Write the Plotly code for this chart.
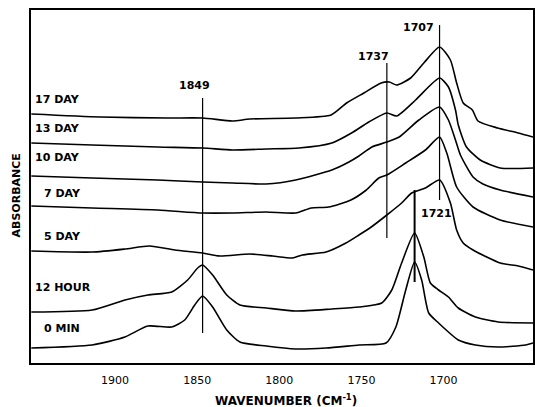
import plotly.graph_objects as go

# ---------------- data ----------------
series_names = ["0 MIN", "12 HOUR", "5 DAY", "7 DAY", "10 DAY", "13 DAY", "17 DAY"]

wn_0min = [1951, 1914, 1894, 1880, 1865.5, 1857.6, 1851.5, 1846.7, 1840.6, 1832, 1824, 1808, 1790,
           1771.5, 1751.5, 1735, 1729, 1723, 1717.6, 1713.3, 1709, 1703, 1697, 1691, 1680.6, 1666.7, 1650, 1645.5]
abs_0min = [0.15, 0.18, 0.26, 0.37, 0.36, 0.43, 0.58, 0.67, 0.56, 0.33, 0.21, 0.17, 0.14,
            0.15, 0.18, 0.20, 0.36, 0.73, 1.01, 0.83, 0.50, 0.40, 0.31, 0.23, 0.18, 0.16, 0.18, 0.20]

wn_12h = [1951, 1914, 1894, 1880, 1865.5, 1855.8, 1849.7, 1846.7, 1840.6, 1832, 1824, 1808, 1790,
          1768, 1751.5, 1737.6, 1731.5, 1725.5, 1717.6, 1712, 1708, 1703, 1697, 1691, 1680.6, 1666.7, 1645.5]
abs_12h = [0.51, 0.53, 0.63, 0.68, 0.71, 0.83, 0.95, 0.98, 0.88, 0.68, 0.58, 0.55, 0.52,
           0.54, 0.56, 0.60, 0.73, 1.00, 1.30, 1.06, 0.80, 0.73, 0.66, 0.55, 0.46, 0.41, 0.40]

wn_5d = [1951, 1914, 1894, 1879, 1863.6, 1846.7, 1836.4, 1818, 1804, 1792, 1786, 1771.5, 1759.4,
         1751.5, 1744, 1734.5, 1725.5, 1719.4, 1711, 1702.4, 1695.8, 1692, 1688, 1682, 1665.5, 1654.5, 1645.5]
abs_5d = [1.12, 1.11, 1.14, 1.17, 1.13, 1.10, 1.07, 1.09, 1.07, 1.05, 1.08, 1.11, 1.20,
          1.28, 1.36, 1.48, 1.60, 1.70, 1.75, 1.83, 1.60, 1.33, 1.20, 1.13, 1.00, 0.97, 0.93]

wn_7d = [1951, 1914, 1874, 1846.7, 1828.5, 1808, 1790, 1780.6, 1770, 1756.4, 1747, 1739.4, 1734.5,
         1723, 1711, 1702.4, 1698, 1692, 1682, 1665.5, 1645.5]
abs_7d = [1.57, 1.55, 1.53, 1.50, 1.50, 1.51, 1.50, 1.55, 1.56, 1.63, 1.73, 1.85, 1.88,
          2.00, 2.13, 2.26, 2.10, 1.76, 1.56, 1.43, 1.36]

wn_10d = [1951, 1914, 1874, 1846.7, 1828.5, 1808, 1790, 1768, 1757.6, 1751.5, 1743.6, 1734.5, 1727,
          1715, 1702.4, 1697, 1692.7, 1689.7, 1682, 1676, 1665.5, 1645.5]
abs_10d = [1.87, 1.85, 1.83, 1.81, 1.80, 1.79, 1.83, 1.93, 2.01, 2.07, 2.16, 2.21, 2.26,
           2.43, 2.56, 2.43, 2.23, 2.08, 1.86, 1.79, 1.73, 1.66]

wn_13d = [1951, 1914, 1874, 1846.7, 1828.5, 1808, 1788, 1768, 1756, 1745.5, 1734.5, 1728.5, 1717,
          1702.4, 1697, 1692.7, 1691, 1686, 1677.6, 1665.5, 1645.5]
abs_13d = [2.20, 2.18, 2.16, 2.15, 2.13, 2.14, 2.15, 2.20, 2.30, 2.41, 2.50, 2.47, 2.63,
           2.85, 2.76, 2.53, 2.38, 2.16, 2.03, 1.95, 1.95]

wn_17d = [1951, 1909, 1868, 1846.7, 1828.5, 1818, 1790, 1768.5, 1759, 1748.5, 1738, 1733, 1728.5,
          1720, 1712, 1702.4, 1695.8, 1692, 1688, 1682.4, 1679, 1667, 1654.5, 1645.5]
abs_17d = [2.49, 2.46, 2.45, 2.45, 2.42, 2.44, 2.45, 2.48, 2.60, 2.70, 2.80, 2.81, 2.78,
           2.85, 3.00, 3.16, 3.03, 2.80, 2.60, 2.53, 2.42, 2.35, 2.30, 2.26]

peak_labels = ["1849", "1737", "1707", "1721"]
peak_wn = [1846.7, 1734.5, 1702.4, 1717.6]          # where the marker lines sit in the picture
peak_top = [2.65, 3.00, 3.38, 1.73]
peak_bottom = [0.30, 1.25, 1.63, 0.81]

x_ticks = [1900, 1850, 1800, 1750, 1700]

# ---------------- styling / layout ----------------
W, H = 535, 407
FONT = "DejaVu Sans"
all_wn = [wn_0min, wn_12h, wn_5d, wn_7d, wn_10d, wn_13d, wn_17d]
all_abs = [abs_0min, abs_12h, abs_5d, abs_7d, abs_10d, abs_13d, abs_17d]

fig = go.Figure()
for name, xs, ys in zip(series_names, all_wn, all_abs):
    fig.add_trace(go.Scatter(x=xs, y=ys, mode="lines", name=name,
                             line=dict(color="black", width=1.6, shape="spline", smoothing=0.6),
                             hoverinfo="skip", showlegend=False))

# vertical marker lines
line_widths = [1.2, 1.2, 1.2, 2.0]
for wn, top, bot, lw in zip(peak_wn, peak_top, peak_bottom, line_widths):
    fig.add_trace(go.Scatter(x=[wn, wn], y=[bot, top], mode="lines",
                             line=dict(color="black", width=lw), hoverinfo="skip", showlegend=False))

annotations = []
# peak labels (offsets in pixels relative to the line top)
label_offsets = [(-8, 13, "center"), (-13, 7, "center"), (-4, -2, "right"), (4, -23, "left")]
for lab, wn, top, (dx, dy, anc) in zip(peak_labels, peak_wn, peak_top, label_offsets):
    annotations.append(dict(x=wn, y=top, xref="x", yref="y", text=lab, showarrow=False,
                            xanchor=anc, yanchor="middle", xshift=dx, yshift=dy,
                            font=dict(family=FONT, size=11, color="black", weight="bold")))

# series labels at the left
label_pos = [(1944.2, 0.35), (1949.7, 0.76), (1944.2, 1.27), (1944.8, 1.70),
             (1949.7, 2.06), (1949.7, 2.35), (1949.7, 2.64)]
for name, (lx, ly) in zip(series_names, label_pos):
    annotations.append(dict(x=lx, y=ly, xref="x", yref="y", text=name, showarrow=False,
                            xanchor="left", yanchor="middle",
                            font=dict(family=FONT, size=11, color="black", weight="bold")))

# axis titles
annotations.append(dict(x=0.5, y=0, xref="paper", yref="paper", text="WAVENUMBER (CM<sup>-1</sup>)",
                        showarrow=False, xanchor="center", yanchor="middle", yshift=-37, xshift=4,
                        font=dict(family=FONT, size=12, color="black", weight="bold")))
annotations.append(dict(x=0, y=0.5, xref="paper", yref="paper", text="ABSORBANCE", textangle=-90,
                        showarrow=False, xanchor="center", yanchor="middle", xshift=-15, yshift=-9,
                        font=dict(family=FONT, size=11, color="black", weight="bold")))

fig.update_layout(
    width=W, height=H,
    margin=dict(l=31, r=0, t=10, b=44),
    paper_bgcolor="white", plot_bgcolor="white",
    annotations=annotations,
    xaxis=dict(range=[1951.2, 1645.5], tickvals=x_ticks, ticktext=[str(t) for t in x_ticks],
               showgrid=False, zeroline=False, showline=True, linecolor="black", linewidth=1.8,
               mirror=True, ticks="", ticklabelstandoff=6,
               tickfont=dict(family=FONT, size=11, color="black")),
    yaxis=dict(range=[0, 3.53], showticklabels=False, showgrid=False, zeroline=False,
               showline=True, linecolor="black", linewidth=1.8, mirror=True, ticks=""),
)

fig.write_html("out.html")
